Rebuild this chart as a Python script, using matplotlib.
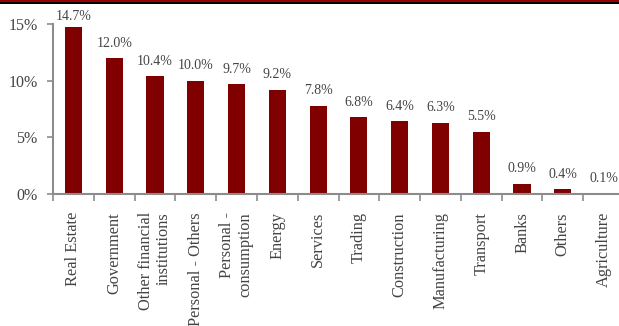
import matplotlib.pyplot as plt
from matplotlib.patches import Rectangle
from matplotlib.ticker import FuncFormatter

sectors = ["Real Estate", "Government", "Other financial\ninstitutions",
           "Personal - Others", "Personal -\nconsumption", "Energy",
           "Services", "Trading", "Construction", "Manufacturing",
           "Transport", "Banks", "Others", "Agriculture"]
share = [14.7, 12.0, 10.4, 10.0, 9.7, 9.2, 7.8, 6.8, 6.4, 6.3, 5.5, 0.9, 0.4, 0.1]

bar_color = "#800000"
axis_color = "#8c8c8c"
text_color = "#444444"

plt.rcParams["font.family"] = ["Liberation Serif", "DejaVu Serif"]

W, H = 619, 326
fig = plt.figure(figsize=(W / 100, H / 100), dpi=100)
# plot area runs off the right edge on purpose
ax = fig.add_axes([53 / W, (H - 194) / H, 571 / W, 170 / H])

x = range(len(share))
ax.bar(x, share, width=0.42, color=bar_color, zorder=2)
ax.set_xlim(-0.5, len(share) - 0.5)
ax.set_ylim(0, 15)

for i, v in enumerate(share):
    off = 3.5 if v > 14 else 6
    ax.annotate(f"{v:.1f}%", (i, v), xytext=(0, off), textcoords="offset points",
                ha="center", va="bottom", fontsize=10, color=text_color,
                annotation_clip=False)

ax.set_yticks([0, 5, 10, 15])
ax.yaxis.set_major_formatter(FuncFormatter(lambda v, _: f"{v:.0f}%"))
ax.set_xticks([i - 0.5 for i in x], minor=False)
ax.set_xticklabels([])
ax.set_xticks(list(x), minor=True)
ax.set_xticklabels(sectors, minor=True, rotation=90, va="top", ha="center",
                   multialignment="right")

ax.tick_params(axis="x", which="major", length=5, width=1.2, color=axis_color,
               direction="out")
ax.tick_params(axis="x", which="minor", length=0, pad=13, labelsize=11.8,
               labelcolor=text_color)
ax.tick_params(axis="y", length=4, width=1.2, color=axis_color, pad=7,
               labelsize=11.5, labelcolor=text_color)

for side in ("top", "right"):
    ax.spines[side].set_visible(False)
for side in ("left", "bottom"):
    ax.spines[side].set_color(axis_color)
    ax.spines[side].set_linewidth(1.5)

# header rule
fig.add_artist(Rectangle((0, 1 - 2.5 / H), 1, 2.5 / H, transform=fig.transFigure,
                         color="#9b0000", lw=0))
fig.add_artist(Rectangle((0, 1 - 3.5 / H), 1, 1.2 / H, transform=fig.transFigure,
                         color="#000000", lw=0))

fig.savefig("out.png", dpi=100)
